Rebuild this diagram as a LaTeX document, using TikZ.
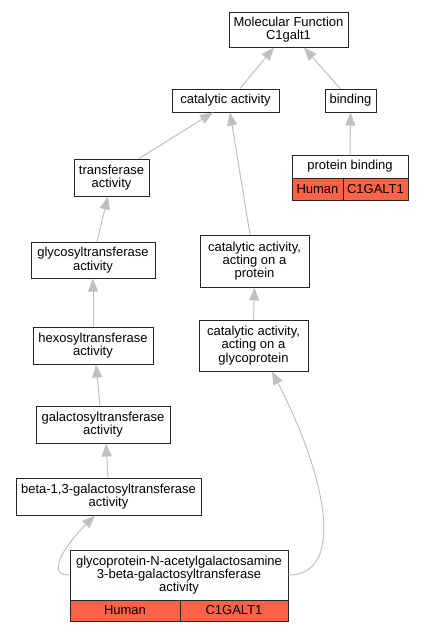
\documentclass[tikz,border=0pt]{standalone}
\usepackage{fontspec}
\setmainfont{Liberation Sans}
\usetikzlibrary{arrows.meta}

\definecolor{edgegray}{RGB}{192,192,192}
\definecolor{hitred}{RGB}{255,99,71}

\tikzset{
	term/.style={draw=black!85, line width=1pt, fill=white, align=center,
		inner sep=0pt, font=\fontsize{13}{13.3}\selectfont},
	cell/.style={term, fill=hitred},
	isa/.style={draw=edgegray, line width=1pt, -{Triangle[length=13pt,width=10pt]}},
}

\begin{document}
\begin{tikzpicture}[x=1pt,y=-1pt]
		\useasboundingbox (0,0) rectangle (423,632);
		% terms
		\node[term, minimum width=119pt, minimum height=35pt] (mf) at (288.5,29.5) {Molecular Function\\C1galt1};
		\node[term, minimum width=107pt, minimum height=23pt] (cat) at (225.5,100.5) {catalytic activity};
		\node[term, minimum width=51pt, minimum height=23pt] (bind) at (350.5,100.5) {binding};
		\node[term, minimum width=116pt, minimum height=23pt] (pbind) at (350,166.5) {protein binding};
		\node[cell, minimum width=51pt, minimum height=22pt] (pbindsp) at (317.5,189) {Human};
		\node[cell, minimum width=65pt, minimum height=22pt] (pbindgn) at (375.5,189) {C1GALT1};
		\node[term, minimum width=75pt, minimum height=37pt] (trans) at (111.5,177.5) {transferase\\activity};
		\node[term, minimum width=124pt, minimum height=36pt] (glyco) at (93,260) {glycosyltransferase\\activity};
		\node[term, minimum width=109pt, minimum height=52pt] (catprot) at (254.5,261) {catalytic activity,\\acting on a\\protein};
		\node[term, minimum width=120pt, minimum height=37pt] (hexo) at (93,345.5) {hexosyltransferase\\activity};
		\node[term, minimum width=109pt, minimum height=51pt] (catglyc) at (253.5,345.5) {catalytic activity,\\acting on a\\glycoprotein};
		\node[term, minimum width=134pt, minimum height=37pt] (galacto) at (103,424.5) {galactosyltransferase\\activity};
		\node[term, minimum width=185pt, minimum height=37pt] (beta) at (108.5,496.5) {beta-1,3-galactosyltransferase\\activity};
		\node[term, minimum width=218pt, minimum height=50pt] (gnac) at (179,575) {glycoprotein-N-acetylgalactosamine\\3-beta-galactosyltransferase\\activity};
		\node[cell, minimum width=110pt, minimum height=21pt] (gnacsp) at (125,610.5) {Human};
		\node[cell, minimum width=108pt, minimum height=21pt] (gnacgn) at (234,610.5) {C1GALT1};
		% is_a edges
		\draw[isa] ([xshift=14.5pt]cat.north) -- ([xshift=-14.5pt]mf.south);
		\draw[isa] ([xshift=-10.5pt]bind.north) -- ([xshift=15.5pt]mf.south);
		\draw[isa] (pbind.north) -- (bind.south);
		\draw[isa] ([xshift=27.5pt]trans.north) -- ([xshift=-12.5pt]cat.south);
		\draw[isa] ([xshift=4pt]glyco.north) -- ([xshift=-3.5pt]trans.south);
		\draw[isa] (hexo.north) -- (glyco.south);
		\draw[isa] ([xshift=-3pt]galacto.north) -- ([xshift=3pt]hexo.south);
		\draw[isa] ([xshift=-0.5pt]beta.north) -- ([xshift=3pt]galacto.south);
		\draw[isa] (gnac.west) .. controls (45,576) and (65,545) .. ([xshift=-13.5pt]beta.south);
		\draw[isa] (gnac.east) .. controls (345,575) and (328,480) .. ([xshift=18.5pt]catglyc.south);
		\draw[isa] (catglyc.north) -- (catprot.south);
		\draw[isa] ([xshift=-4.5pt]catprot.north) -- ([xshift=4.5pt]cat.south);
	\end{tikzpicture}
\end{document}
